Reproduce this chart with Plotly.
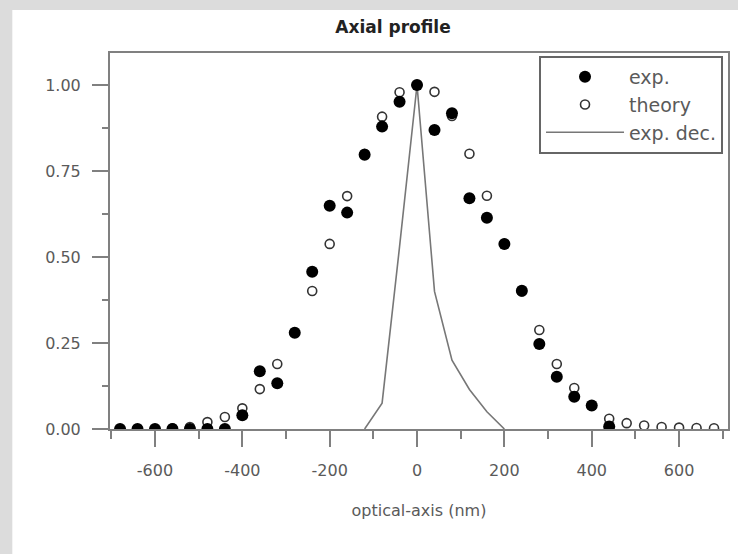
import plotly.graph_objects as go

# ---- data ----
x_theory = [-680, -640, -600, -560, -520, -480, -440, -400, -360, -320, -280, -240, -200,
            -160, -120, -80, -40, 0, 40, 80, 120, 160, 200, 240, 280, 320, 360, 400,
            440, 480, 520, 560, 600, 640, 680]
y_theory = [0.0, 0.0, 0.0, 0.002, 0.006, 0.02, 0.035, 0.06, 0.116, 0.189, 0.28, 0.401, 0.538,
            0.677, 0.80, 0.908, 0.979, 1.0, 0.98, 0.91, 0.80, 0.678, 0.538, 0.40, 0.288, 0.189,
            0.119, 0.068, 0.03, 0.017, 0.01, 0.006, 0.004, 0.003, 0.002]

x_exp = [-680, -640, -600, -560, -520, -480, -440, -400, -360, -320, -280, -240, -200,
         -160, -120, -80, -40, 0, 40, 80, 120, 160, 200, 240, 280, 320, 360, 400, 440]
y_exp = [0.0, 0.0, 0.0, 0.0, 0.0, 0.0, 0.0, 0.04, 0.168, 0.133, 0.28, 0.457, 0.649,
         0.629, 0.797, 0.879, 0.951, 1.0, 0.869, 0.918, 0.671, 0.614, 0.538, 0.402, 0.247,
         0.152, 0.094, 0.068, 0.007]

x_dec = [-120, -80, -40, 0, 40, 80, 120, 160, 200]
y_dec = [0.0, 0.075, 0.53, 1.0, 0.40, 0.20, 0.115, 0.05, 0.0]

x_ticks = [-600, -400, -200, 0, 200, 400, 600]
y_ticks = [0.0, 0.25, 0.50, 0.75, 1.00]

FONT = "DejaVu Sans"
GREY = "#5a5a5a"
AXIS = "#808080"

fig = go.Figure()

fig.add_trace(go.Scatter(
    x=x_dec, y=y_dec, mode="lines", name="exp. dec.",
    line=dict(color="#777777", width=1.6), legendrank=3, legendgroup="c"))

fig.add_trace(go.Scatter(
    x=x_theory, y=y_theory, mode="markers", name="theory",
    marker=dict(symbol="circle-open", size=9, color="#333333", line=dict(width=1.6)),
    legendrank=2, legendgroup="b"))

fig.add_trace(go.Scatter(
    x=x_exp, y=y_exp, mode="markers", name="exp.",
    marker=dict(symbol="circle", size=12, color="black"),
    legendrank=1, legendgroup="a"))

# white card on grey page
fig.add_shape(type="rect", xref="paper", yref="paper",
              x0=(12 - 110) / 620, x1=(800 - 110) / 620,
              y0=(429 - 600) / 376, y1=(429 - 10) / 376,
              fillcolor="white", line=dict(width=0), layer="below")

fig.update_layout(
    width=738, height=554,
    margin=dict(l=110, r=8, t=53, b=125),
    paper_bgcolor="#dcdcdc", plot_bgcolor="white",
    font=dict(family=FONT, color=GREY, size=16),
    title=dict(text="Axial profile", x=393 / 738, xanchor="center",
               y=1 - 27 / 554, yanchor="middle",
               font=dict(family=FONT, size=17, color="#222222", weight="bold")),
    legend=dict(x=(725 - 110) / 620, xanchor="right", y=(429 - 56) / 376, yanchor="top",
                bgcolor="white", bordercolor="#666666", borderwidth=2,
                font=dict(family=FONT, size=19, color=GREY),
                itemwidth=78, tracegroupgap=0),
    showlegend=True,
)

fig.update_xaxes(
    range=[-703, 712], tickvals=x_ticks, ticktext=[str(v) for v in x_ticks],
    showgrid=False, zeroline=False,
    showline=True, linecolor=AXIS, linewidth=2, mirror=True,
    ticks="outside", ticklen=16, tickwidth=1.5, tickcolor=AXIS,
    minor=dict(dtick=100, tick0=-700, ticks="outside", ticklen=8, tickwidth=1.5, tickcolor=AXIS),
    tickfont=dict(size=16, color=GREY), ticklabelstandoff=10,
    title=dict(text="optical-axis (nm)", font=dict(size=16, color=GREY), standoff=26),
)

fig.update_yaxes(
    range=[0, 1.093], tickvals=y_ticks, ticktext=["0.00", "0.25", "0.50", "0.75", "1.00"],
    showgrid=False, zeroline=False,
    showline=True, linecolor=AXIS, linewidth=2, mirror=True,
    ticks="outside", ticklen=16, tickwidth=1.5, tickcolor=AXIS,
    minor=dict(dtick=0.125, tick0=0, ticks="outside", ticklen=6, tickwidth=1.5, tickcolor=AXIS),
    tickfont=dict(size=16, color=GREY), ticklabelstandoff=8,
)

fig.write_html("out.html", config={"displayModeBar": False},
               post_script="document.body.style.margin='0';document.body.style.overflow='hidden';")
